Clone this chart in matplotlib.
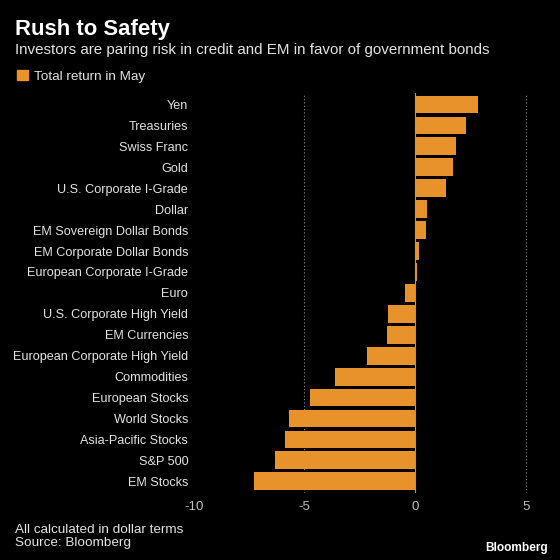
import numpy as np
import matplotlib.pyplot as plt

plt.rcParams['font.family'] = ['Liberation Sans', 'DejaVu Sans']

# data (total return in May, %)
categories = [
    'Yen', 'Treasuries', 'Swiss Franc', 'Gold', 'U.S. Corporate I-Grade',
    'Dollar', 'EM Sovereign Dollar Bonds', 'EM Corporate Dollar Bonds',
    'European Corporate I-Grade', 'Euro', 'U.S. Corporate High Yield',
    'EM Currencies', 'European Corporate High Yield', 'Commodities',
    'European Stocks', 'World Stocks', 'Asia-Pacific Stocks', 'S&P 500',
    'EM Stocks',
]
returns = [2.85, 2.31, 1.84, 1.69, 1.37, 0.51, 0.48, 0.16, 0.06, -0.45,
           -1.24, -1.28, -2.2, -3.6, -4.77, -5.69, -5.87, -6.35, -7.26]
xticks = [-10, -5, 0, 5]

bg = '#000000'
bar_color = '#E8922C'
text_color = '#E3E3E3'
tick_color = '#BDBDBD'

fig = plt.figure(figsize=(5.6, 5.6), dpi=100, facecolor=bg)
# x range padded slightly so the gridline at 5 is not clipped
ax = fig.add_axes([0.346, 0.12, 0.611, 0.714], facecolor=bg)

y = np.arange(len(categories))
ax.barh(y, returns, height=0.85, color=bar_color, zorder=3)

ax.set_xlim(-10, 5.45)
ax.set_ylim(len(categories) - 0.45, -0.55)
ax.set_xticks(xticks)
ax.set_xticklabels([str(t) for t in xticks], color=tick_color, fontsize=9.5)
ax.set_yticks(y)
ax.set_yticklabels(categories, color=text_color, fontsize=9.05)
ax.tick_params(axis='y', length=0, pad=4)
ax.tick_params(axis='x', length=0, pad=6)

# grid: dotted at +-5, solid thin line at zero
for t in [-5, 5]:
    ax.axvline(t, color='#8a8a8a', linestyle=(0, (1, 2)), linewidth=0.8, zorder=1)
ax.axvline(0, color='#9a9a9a', linewidth=0.8, zorder=1)

for s in ax.spines.values():
    s.set_visible(False)

# header
fig.text(0.027, 0.948, 'Rush to Safety', color='white', fontsize=15.9,
         fontweight='bold', va='center', ha='left')
fig.text(0.027, 0.910, 'Investors are paring risk in credit and EM in favor of government bonds',
         color=text_color, fontsize=10.9, va='center', ha='left')
fig.patches.append(plt.Rectangle((0.030, 0.857), 0.02, 0.018, transform=fig.transFigure,
                                 color=bar_color, figure=fig))
fig.text(0.061, 0.863, 'Total return in May', color=text_color, fontsize=9.7,
         va='center', ha='left')

# footer
fig.text(0.027, 0.054, 'All calculated in dollar terms', color=text_color,
         fontsize=9.7, va='center', ha='left')
fig.text(0.027, 0.030, 'Source: Bloomberg', color=text_color, fontsize=9.7,
         va='center', ha='left')
fig.text(0.979, 0.022, 'Bloomberg', color='white', fontsize=8.6, fontweight='bold',
         va='center', ha='right')

fig.savefig('out.png', dpi=100, facecolor=bg)
